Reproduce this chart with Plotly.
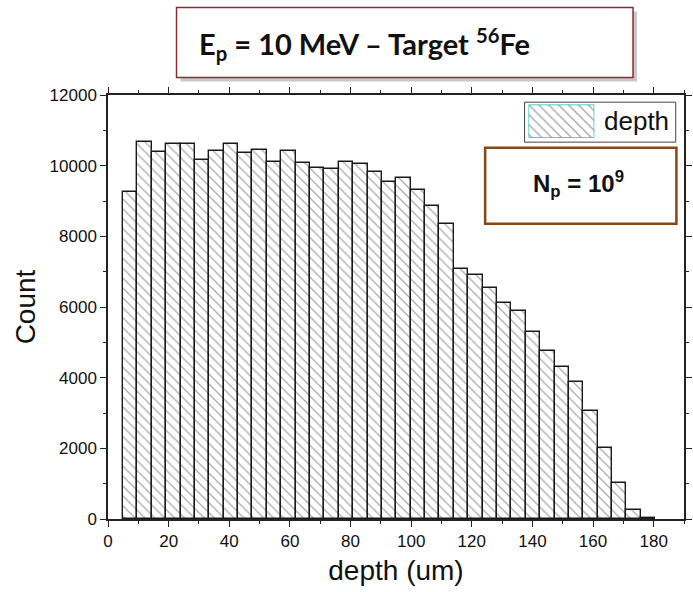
import plotly.graph_objects as go

# ---- data ----
bin_centers = [7.31, 12.06, 16.80, 21.55, 26.29, 31.04, 35.78, 40.53, 45.27, 50.02,
               54.76, 59.51, 64.25, 69.00, 73.74, 78.49, 83.23, 87.98, 92.72, 97.47,
               102.21, 106.96, 111.70, 116.45, 121.19, 125.94, 130.68, 135.43, 140.17, 144.92,
               149.66, 154.41, 159.15, 163.90, 168.64, 173.39, 178.13]
counts = [9263, 10678, 10395, 10622, 10604, 10160, 10415, 10604, 10358, 10443,
          10112, 10415, 10084, 9925, 9906, 10112, 10047, 9830, 9546, 9642,
          9320, 8858, 8358, 7085, 6906, 6528, 6123, 5887, 5292, 4755,
          4311, 3887, 3066, 2019, 1028, 264, 15]
bin_width = 4.745
series_name = "depth"
x_title = "depth (um)"
y_title = "Count"
title_text = "<b>E<sub>p</sub> = 10 MeV – Target <sup>56</sup>Fe</b>"
np_text = "<b>N<sub>p</sub> = 10<sup>9</sup></b>"

# plot-area pixel geometry (for placing decorations)
W, H = 693, 592
L, R, T, B = 107.5, 691.7, 94.5, 519.0
PW, PH = R - L, B - T

def px(x):
    return (x - L) / PW

def py(y):
    return (B - y) / PH

fig = go.Figure()
fig.add_trace(go.Bar(
    x=bin_centers, y=counts, width=bin_width, name=series_name,
    marker=dict(color="white", line=dict(color="#1a1a1a", width=1.4),
                pattern=dict(shape="\\", fgcolor="#555555", bgcolor="white",
                             size=7, solidity=0.18)),
    showlegend=False,
))

# legend swatch drawn on a small overlay axis
fig.add_trace(go.Scatter(
    x=[0, 1, 1, 0, 0], y=[0, 0, 1, 1, 0], xaxis="x2", yaxis="y2",
    mode="lines", fill="toself", fillcolor="white",
    fillpattern=dict(shape="\\", fgcolor="#444444", bgcolor="white", size=7, solidity=0.18),
    line=dict(color="#1fb8b8", width=1.3), showlegend=False, hoverinfo="skip",
))

axis_font = dict(family="Liberation Sans, Arial", size=17, color="#111")
fig.update_layout(
    width=W, height=H,
    margin=dict(l=L, r=W - R, t=T, b=H - B, pad=0),
    paper_bgcolor="white", plot_bgcolor="white",
    bargap=0,
    xaxis=dict(range=[0, 190], dtick=20, tick0=0, ticks="outside", ticklen=6, tickwidth=1.3,
               tickcolor="#222", showline=True, linecolor="#222", linewidth=1.5, mirror="ticks",
               showgrid=False, zeroline=False, tickfont=axis_font,
               minor=dict(dtick=10, ticks="outside", ticklen=3, tickcolor="#222"),
               title=dict(text=x_title, font=dict(family="Liberation Sans, Arial", size=28, color="#111"),
                          standoff=10)),
    yaxis=dict(range=[0, 12000], dtick=2000, tick0=0, tickformat="d", ticks="outside", ticklen=6,
               tickwidth=1.3, tickcolor="#222", showline=True, linecolor="#222", linewidth=1.5,
               mirror="ticks", showgrid=False, zeroline=False, tickfont=axis_font,
               minor=dict(dtick=1000, ticks="outside", ticklen=3, tickcolor="#222"),
               title=dict(text=y_title, font=dict(family="Liberation Sans, Arial", size=28, color="#111"),
                          standoff=6)),
    xaxis2=dict(domain=[px(534), px(600.7)], range=[0, 1], visible=False, anchor="y2", fixedrange=True),
    yaxis2=dict(domain=[py(137.3), py(104)], range=[0, 1], visible=False, anchor="x2", fixedrange=True),
    shapes=[
        # legend frame
        dict(type="rect", xref="paper", yref="paper", x0=px(530), x1=px(683.3), y0=py(141.7), y1=py(101.7),
             line=dict(color="#444", width=1), fillcolor="white", layer="below"),
        # Np box
        dict(type="rect", xref="paper", yref="paper", x0=px(490), x1=px(684), y0=py(223.3), y1=py(147.3),
             line=dict(color="#8B4513", width=2.5), fillcolor="white", layer="above"),
        # title box shadow
        dict(type="rect", xref="paper", yref="paper", x0=px(181), x1=px(644), y0=py(81), y1=py(11),
             line=dict(width=0), fillcolor="#c8c8c8", layer="above"),
        # title box
        dict(type="rect", xref="paper", yref="paper", x0=px(177), x1=px(640), y0=py(77), y1=py(7),
             line=dict(color="#8e2a35", width=1.5), fillcolor="white", layer="above"),
    ],
    annotations=[
        dict(text=series_name, xref="paper", yref="paper", x=px(609), y=py(121), xanchor="left",
             yanchor="middle", showarrow=False, font=dict(family="Liberation Sans, Arial", size=26, color="#111")),
        dict(text=np_text, xref="paper", yref="paper", x=px(585), y=py(184), xanchor="center",
             yanchor="middle", showarrow=False, font=dict(family="Liberation Sans, Arial", size=24, color="#111")),
        dict(text=title_text, xref="paper", yref="paper", x=px(198), y=py(43), xanchor="left",
             yanchor="middle", showarrow=False, font=dict(family="Lato, Open Sans", size=29, color="#111")),
    ],
)

fig.write_html("out.html")
